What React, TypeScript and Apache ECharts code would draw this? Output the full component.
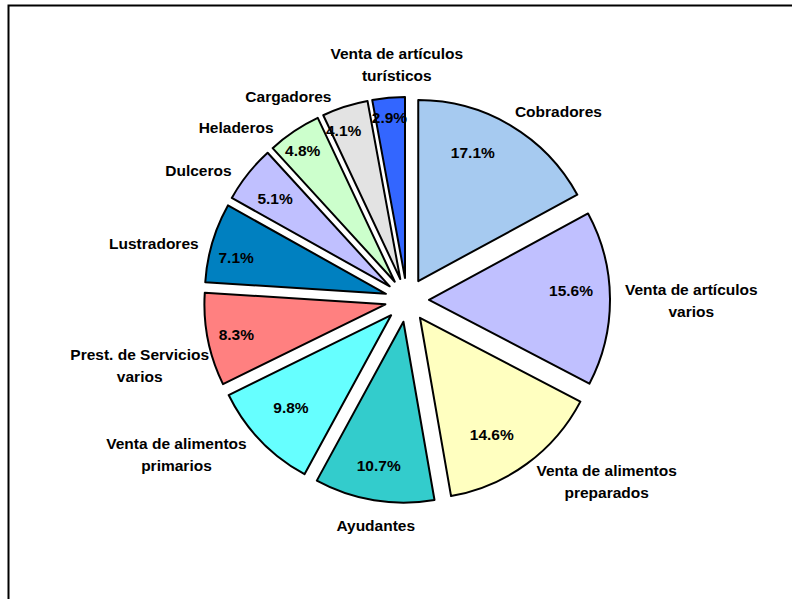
import React, { useEffect, useRef } from "react";
import * as echarts from "echarts";

// ---- data ----
const categories = [
  "Cobradores",
  "Venta de artículos varios",
  "Venta de alimentos preparados",
  "Ayudantes",
  "Venta de alimentos primarios",
  "Prest. de Servicios varios",
  "Lustradores",
  "Dulceros",
  "Heladeros",
  "Cargadores",
  "Venta de artículos turísticos",
];
const labelTexts = [
  "Cobradores",
  "Venta de artículos\nvarios",
  "Venta de alimentos\npreparados",
  "Ayudantes",
  "Venta de alimentos\nprimarios",
  "Prest. de Servicios\nvarios",
  "Lustradores",
  "Dulceros",
  "Heladeros",
  "Cargadores",
  "Venta de artículos\nturísticos",
];
const shares = [17.1, 15.6, 14.6, 10.7, 9.8, 8.3, 7.1, 5.1, 4.8, 4.1, 2.9];

// ---- style ----
const colors = [
  "#A6CAF0", "#C0C0FF", "#FFFFC0", "#33CCCC", "#66FFFF", "#FF8080",
  "#0080C0", "#C0C0FF", "#CCFFCC", "#E3E3E3", "#3366FF",
];
const CX = 407;
const CY = 300;
const R = 181;
const OFF = 22;
const GAP = 8;
// fine nudges of outside name labels (px)
const nameNudge = [
  [0, 2], [7, 2], [5, -7], [3, 6], [-8, -7], [9, 20],
  [-6, 6], [-10, 8], [-16, 12], [-11, 8], [9, -3],
];
// radial distance of the percentage labels from each slice apex (px)
const pctDist = [140, 142, 137, 146, 136, 152, 153, 145, 160, 159, 160];
// fine nudges of percentage labels (px)
const pctNudge = [
  [-17, -8], [0, -8], [-9, 6], [-1, 0], [-2, -2], [0, 1],
  [-3, 7], [-1, 2], [-3, 2], [-8, 3], [-1, -1],
];

const FONT = "'Liberation Sans', Arial, sans-serif";

function geom(i: number) {
  const total = shares.reduce((a, b) => a + b, 0);
  const before = shares.slice(0, i).reduce((a, b) => a + b, 0);
  const mid = ((before + shares[i] / 2) / total) * Math.PI * 2;
  const nx = Math.sin(mid);
  const ny = -Math.cos(mid);
  return { nx, ny, apx: CX + OFF * nx, apy: CY + OFF * ny };
}

const textStyle = {
  fontFamily: FONT,
  fontWeight: "bold",
  fontSize: 15.5,
  color: "#000",
};

export default function App() {
  const ref = useRef<HTMLDivElement>(null);
  useEffect(() => {
    if (!ref.current) return;
    const chart = echarts.init(ref.current, null, { renderer: "svg" });
    const mainData = categories.map((name, i) => ({
      name,
      value: shares[i],
      selected: true,
      itemStyle: { color: colors[i], borderColor: "#000", borderWidth: 2 },
    }));
    const ghostData = categories.map((name, i) => ({
      name,
      value: shares[i],
      itemStyle: { color: "rgba(0,0,0,0)", borderWidth: 0 },
    }));
    const ghostBase = {
      type: "pie",
      center: [CX, CY],
      radius: [0, R],
      startAngle: 90,
      clockwise: true,
      selectedMode: false,
      avoidLabelOverlap: false,
      silent: true,
      z: 10,
      data: ghostData,
      labelLine: { show: false, length: 0, length2: 0 },
    };
    chart.setOption({
      animation: false,
      backgroundColor: "#fff",
      graphic: [
        {
          type: "rect",
          shape: { x: 8.5, y: 5.5, width: 900, height: 700 },
          style: { fill: "none", stroke: "#000", lineWidth: 2 },
          silent: true,
        },
      ],
      series: [
        {
          type: "pie",
          center: [CX, CY],
          radius: [0, R],
          startAngle: 90,
          clockwise: true,
          selectedMode: "multiple",
          selectedOffset: OFF,
          avoidLabelOverlap: false,
          silent: true,
          z: 2,
          data: mainData,
          select: { itemStyle: { borderColor: "#000", borderWidth: 2 } },
          label: { show: false },
          labelLine: { show: false },
        },
        {
          ...ghostBase,
          label: {
            show: true,
            position: "inside",
            formatter: (p: any) => shares[p.dataIndex].toFixed(1) + "%",
            ...textStyle,
          },
          labelLayout: (p: any) => {
            const i = p.dataIndex;
            const g = geom(i);
            return {
              x: g.apx + pctDist[i] * g.nx + pctNudge[i][0],
              y: g.apy + pctDist[i] * g.ny + pctNudge[i][1],
              align: "center",
              verticalAlign: "middle",
            };
          },
        },
        {
          ...ghostBase,
          label: {
            show: true,
            position: "outside",
            formatter: (p: any) => labelTexts[p.dataIndex],
            lineHeight: 22,
            ...textStyle,
          },
          labelLayout: (p: any) => {
            const i = p.dataIndex;
            const g = geom(i);
            const w = p.labelRect.width;
            const h = p.labelRect.height;
            const ax = g.apx + (R + GAP) * g.nx;
            const ay = g.apy + (R + GAP) * g.ny;
            const sx = Math.abs(g.nx) < 0.25 ? 0 : Math.sign(g.nx);
            return {
              x: ax + (sx * w) / 2 + nameNudge[i][0],
              y: ay + (g.ny * h) / 2 + nameNudge[i][1],
              align: "center",
              verticalAlign: "middle",
            };
          },
        },
      ],
    });
    return () => chart.dispose();
  }, []);
  return (
    <div
      ref={ref}
      style={{ position: "absolute", left: 0, top: 0, width: 792, height: 599 }}
    />
  );
}
